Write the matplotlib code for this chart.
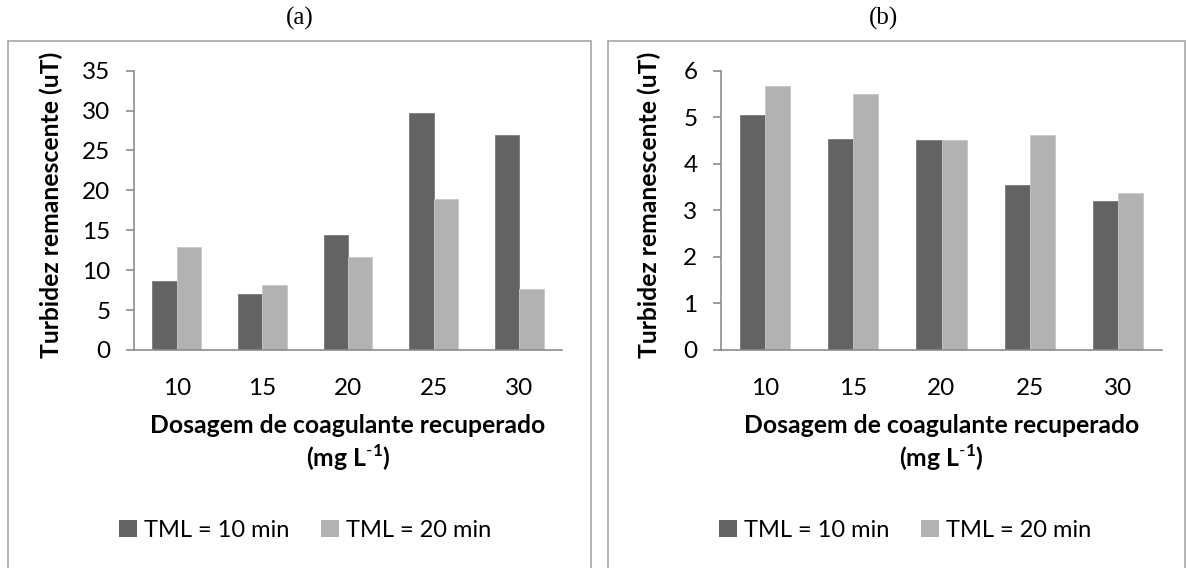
import numpy as np
import matplotlib
matplotlib.use("Agg")
import matplotlib.pyplot as plt
from matplotlib.patches import Rectangle, Patch

plt.rcParams['font.family'] = ['Lato', 'DejaVu Sans']
plt.rcParams['mathtext.fontset'] = 'custom'
plt.rcParams['mathtext.rm'] = 'Lato'
plt.rcParams['mathtext.bf'] = 'Lato:bold'

DARK = '#636363'
LIGHT = '#b2b2b2'
SPINE = '#8c8c8c'
FRAME = '#a6a6a6'

dosagens = ['10', '15', '20', '25', '30']
series_names = ['TML = 10 min', 'TML = 20 min']

# panel (a)
turb_a_10 = [8.6, 7.0, 14.4, 29.7, 27.0]
turb_a_20 = [12.9, 8.1, 11.6, 18.9, 7.6]
# panel (b)
turb_b_10 = [5.05, 4.54, 4.52, 3.54, 3.20]
turb_b_20 = [5.68, 5.51, 4.52, 4.62, 3.38]

W, H = 1187, 568
FS_TICK = 17.5
FS_LAB = 17.8
FS_LEG = 17


def px(x0, y0, x1, y1):
    """pixel box (top-left origin) -> figure fraction rect"""
    return [x0 / W, 1 - y1 / H, (x1 - x0) / W, (y1 - y0) / H]


def draw_panel(fig, rect, frame, v10, v20, ymax, ystep, ylab_x, leg_x, title, title_x):
    fig.add_artist(Rectangle((frame[0] / W, -0.02), (frame[1] - frame[0]) / W,
                             1.02 - frame[2] / H, transform=fig.transFigure,
                             fill=False, edgecolor=FRAME, linewidth=1.2))
    fig.text(title_x / W, 1 - 18 / H, title, family='Liberation Serif',
             fontsize=18, ha='center', va='center')

    ax = fig.add_axes(rect)
    x = np.arange(len(dosagens))
    w = 0.285
    ax.bar(x - w / 2, v10, w, color=DARK, edgecolor='#7a7a7a', linewidth=0.6)
    ax.bar(x + w / 2, v20, w, color=LIGHT, edgecolor='#c8c8c8', linewidth=0.6)

    ax.set_xlim(-0.5, len(dosagens) - 0.5)
    ax.set_ylim(0, ymax)
    ax.set_yticks(np.arange(0, ymax + 0.001, ystep))
    ax.set_xticks(x)
    ax.set_xticklabels(dosagens)
    for s in ['top', 'right']:
        ax.spines[s].set_visible(False)
    for s in ['left', 'bottom']:
        ax.spines[s].set_color(SPINE)
        ax.spines[s].set_linewidth(1.2)
    ax.tick_params(axis='y', length=6, width=1.2, color=SPINE, pad=11, labelsize=FS_TICK)
    ax.tick_params(axis='x', length=0, pad=20, labelsize=FS_TICK)

    ax.set_ylabel('Turbidez remanescente (uT)', fontsize=FS_LAB, fontweight='bold')
    ax.yaxis.set_label_coords(ylab_x, 0.52)
    ax.text(0.5, -0.271, 'Dosagem de coagulante recuperado', transform=ax.transAxes,
            ha='center', va='center', fontsize=FS_LAB, fontweight='bold')
    ax.text(0.5, -0.387, r'(mg L$^{\text{-}\mathbf{1}}$)', transform=ax.transAxes,
            ha='center', va='center', fontsize=FS_LAB, fontweight='bold')

    handles = [Patch(facecolor=DARK), Patch(facecolor=LIGHT)]
    ax.legend(handles, series_names, loc='center', bbox_to_anchor=(leg_x, -0.645),
              ncol=2, frameon=False, fontsize=FS_LEG, handlelength=0.75,
              handleheight=0.75, handletextpad=0.3, columnspacing=1.35)
    return ax


fig = plt.figure(figsize=(W / 100, H / 100), dpi=100)

draw_panel(fig, px(134, 70.7, 562, 350), (8, 591, 41), turb_a_10, turb_a_20,
           35, 5, -0.166, 0.40, '(a)', 300)
draw_panel(fig, px(721, 70.7, 1162, 350), (608, 1185, 41), turb_b_10, turb_b_20,
           6, 1, -0.136, 0.417, '(b)', 883)

fig.savefig('out.png', dpi=100)
